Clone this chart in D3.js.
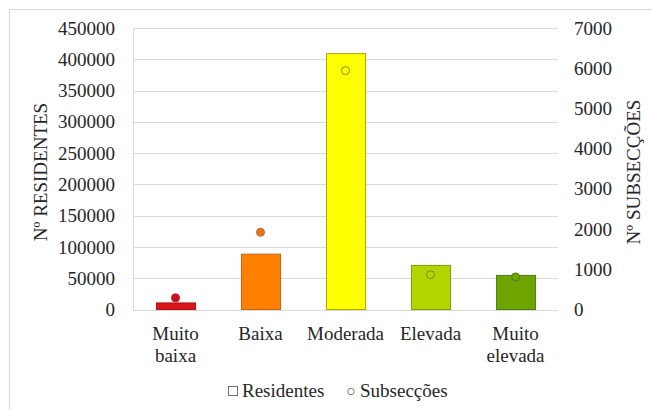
<!DOCTYPE html>
<html>
<head>
<meta charset="utf-8">
<script src="https://cdn.jsdelivr.net/npm/d3@7"></script>
<style>
  html, body { margin: 0; padding: 0; background: #fff; }
  svg { display: block; }
  svg text { font-family: "Liberation Serif", "Times New Roman", serif !important; }
</style>
</head>
<body>
<svg id="chart" width="652" height="410"></svg>
<script>
// Classes and values
const categories = ["Muito baixa", "Baixa", "Moderada", "Elevada", "Muito elevada"];
const categoryLines = [["Muito", "baixa"], ["Baixa"], ["Moderada"], ["Elevada"], ["Muito", "elevada"]];
const residentes = [10500, 88500, 409000, 70500, 54500];
const subseccoes = [290, 1920, 5940, 865, 810];
const leftTicks = [0, 50000, 100000, 150000, 200000, 250000, 300000, 350000, 400000, 450000];
const rightTicks = [0, 1000, 2000, 3000, 4000, 5000, 6000, 7000];
const barFill = ["#d9141b", "#ff8000", "#ffff00", "#b4d600", "#6ea500"];
const barStroke = ["#b01018", "#c2661c", "#a8a800", "#7f9a10", "#4f7a18"];
const dotFill = ["#cc1018", "#e07820", "#ffff00", "#b4d600", "#6ea500"];
const dotStroke = ["#cc1018", "#c2661c", "#8a8a10", "#6f8a10", "#4f7a18"];

const svg = d3.select("#chart");
const plot = { left: 133, right: 558, top: 28, bottom: 309.5 };
const textColor = "#262626";
const fontSize = 19;

// Outer chart frame
svg.append("rect")
  .attr("x", 9.5).attr("y", 9.5)
  .attr("width", 700).attr("height", 500)
  .attr("fill", "#fff").attr("stroke", "#d9d9d9").attr("stroke-width", 1);

const x = d3.scaleBand().domain(categories).range([plot.left, plot.right]).paddingInner(0.54).paddingOuter(0.27);
const yL = d3.scaleLinear().domain([0, 450000]).range([plot.bottom, plot.top]);
const yR = d3.scaleLinear().domain([0, 7000]).range([plot.bottom, plot.top]);

// Gridlines
svg.append("g")
  .selectAll("line").data(leftTicks).join("line")
  .attr("x1", plot.left).attr("x2", plot.right)
  .attr("y1", d => Math.round(yL(d)) + 0.5).attr("y2", d => Math.round(yL(d)) + 0.5)
  .attr("stroke", "#d9d9d9").attr("stroke-width", 1);

// Left axis line
svg.append("line")
  .attr("x1", plot.left + 0.5).attr("x2", plot.left + 0.5)
  .attr("y1", plot.top).attr("y2", plot.bottom)
  .attr("stroke", "#d9d9d9");

// Left axis
const axL = svg.append("g").attr("transform", `translate(${plot.left},0)`)
  .call(d3.axisLeft(yL).tickValues(leftTicks).tickFormat(d3.format("d")).tickSize(0).tickPadding(18));
axL.select(".domain").remove();
axL.selectAll("text").attr("font-size", fontSize).attr("fill", textColor);

// Right axis
const axR = svg.append("g").attr("transform", `translate(${plot.right},0)`)
  .call(d3.axisRight(yR).tickValues(rightTicks).tickFormat(d3.format("d")).tickSize(0).tickPadding(16));
axR.select(".domain").remove();
axR.selectAll("text").attr("font-size", fontSize).attr("fill", textColor);

// Bars (residentes)
svg.append("g").selectAll("rect").data(categories).join("rect")
  .attr("x", d => x(d) + 0.5)
  .attr("y", (d, i) => yL(residentes[i]))
  .attr("width", x.bandwidth())
  .attr("height", (d, i) => plot.bottom - yL(residentes[i]))
  .attr("fill", (d, i) => barFill[i])
  .attr("stroke", (d, i) => barStroke[i])
  .attr("stroke-width", 1);

// Points (subsecções)
svg.append("g").selectAll("circle").data(categories).join("circle")
  .attr("cx", d => x(d) + x.bandwidth() / 2)
  .attr("cy", (d, i) => yR(subseccoes[i]))
  .attr("r", 4)
  .attr("fill", (d, i) => dotFill[i])
  .attr("stroke", (d, i) => dotStroke[i])
  .attr("stroke-width", 1);

// Category labels
const cat = svg.append("g").selectAll("text").data(categories).join("text")
  .attr("text-anchor", "middle")
  .attr("font-size", fontSize)
  .attr("fill", textColor)
  .attr("x", d => x(d) + x.bandwidth() / 2)
  .attr("y", 340);
cat.each(function (d, i) {
  const t = d3.select(this);
  categoryLines[i].forEach((line, j) => {
    t.append("tspan").attr("x", x(d) + x.bandwidth() / 2).attr("dy", j === 0 ? 0 : 22).text(line);
  });
});

// Axis titles
svg.append("text")
  .attr("transform", "translate(47,172) rotate(-90)")
  .attr("text-anchor", "middle")
  .attr("font-size", fontSize).attr("fill", textColor)
  .text("Nº RESIDENTES");
svg.append("text")
  .attr("transform", "translate(640,172) rotate(-90)")
  .attr("text-anchor", "middle")
  .attr("font-size", fontSize).attr("fill", textColor)
  .text("Nº SUBSECÇÕES");

// Legend
const legend = svg.append("g");
legend.append("rect")
  .attr("x", 228.5).attr("y", 386.5).attr("width", 9).attr("height", 9)
  .attr("fill", "#fff").attr("stroke", "#6e6e6e").attr("stroke-width", 1);
legend.append("text")
  .attr("x", 242).attr("y", 397)
  .attr("font-size", fontSize).attr("fill", textColor)
  .text("Residentes");
legend.append("circle")
  .attr("cx", 351).attr("cy", 391.5).attr("r", 3.2)
  .attr("fill", "#fff").attr("stroke", "#808080").attr("stroke-width", 1);
legend.append("text")
  .attr("x", 360).attr("y", 397)
  .attr("font-size", fontSize).attr("fill", textColor)
  .text("Subsecções");
</script>
</body>
</html>
